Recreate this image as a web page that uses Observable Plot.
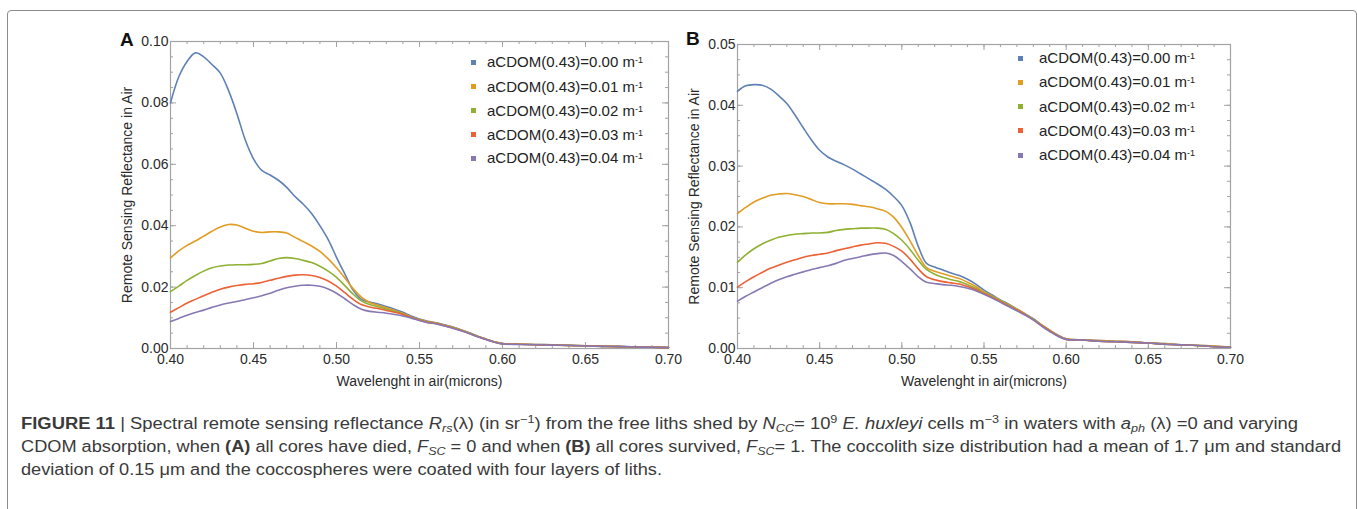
<!DOCTYPE html>
<html><head><meta charset="utf-8">
<script src="https://cdn.jsdelivr.net/npm/d3@7"></script>
<script src="https://cdn.jsdelivr.net/npm/@observablehq/plot@0.6"></script>
<style>
body{margin:0;background:#fff;}
#page{position:relative;width:1357px;height:509px;overflow:hidden;font-family:"Liberation Sans",Arial,sans-serif;color:#333;}
.border{position:absolute;left:7px;top:10px;width:1350px;height:540px;border:1.5px solid #8c8c8c;border-radius:4px;box-sizing:border-box;}
.plot{position:absolute;top:0;}
.letter{position:absolute;font-weight:bold;font-size:19px;color:#111;line-height:20px;}
.leg{position:absolute;font-size:15px;color:#222;line-height:18px;white-space:nowrap;}
.leg sup{font-size:9px;vertical-align:top;position:relative;top:-2px;}
.sq{position:absolute;width:5px;height:5px;}
.cap{position:absolute;left:21px;font-family:"Liberation Sans",Arial,sans-serif;font-size:16px;color:#3a3a3a;line-height:22px;}
.cap-line{display:inline-block;white-space:nowrap;transform-origin:0 50%;}
.cap sub{font-size:11px;vertical-align:baseline;position:relative;top:3px;}
.cap sup{font-size:11px;vertical-align:baseline;position:relative;top:-6px;}
</style></head>
<body><div id="page"><div class="border"></div></div>
<script>
// ---- data ----
const wavelengths = [0.400,0.405,0.410,0.415,0.420,0.425,0.430,0.435,0.440,0.445,0.450,0.455,0.460,0.465,0.470,0.475,0.480,0.485,0.490,0.495,0.500,0.505,0.510,0.515,0.520,0.525,0.530,0.535,0.540,0.545,0.550,0.555,0.560,0.565,0.570,0.575,0.580,0.585,0.590,0.595,0.600,0.610,0.620,0.630,0.640,0.650,0.660,0.670,0.680,0.690,0.700];
const seriesLabels = ["aCDOM(0.43)=0.00","aCDOM(0.43)=0.01","aCDOM(0.43)=0.02","aCDOM(0.43)=0.03","aCDOM(0.43)=0.04"];
const seriesColors = ["#5e81b5","#e19c24","#8fb032","#eb6235","#8778b3"];
const xTicks = [0.40,0.45,0.50,0.55,0.60,0.65,0.70];
const yTicksA = [0.00,0.02,0.04,0.06,0.08,0.10];
const yTicksB = [0.00,0.01,0.02,0.03,0.04,0.05];

// Panel A (F_SC = 0)
const a000 = [0.0800,0.0885,0.0935,0.0963,0.0950,0.0925,0.0897,0.0840,0.0765,0.0680,0.0618,0.0580,0.0565,0.0548,0.0525,0.0495,0.0470,0.0440,0.0400,0.0355,0.0297,0.0243,0.0190,0.0160,0.0151,0.0145,0.0137,0.0128,0.0118,0.0106,0.0096,0.0089,0.0084,0.0077,0.0070,0.0061,0.0051,0.0040,0.0031,0.0022,0.0016,0.0014,0.0013,0.0012,0.0011,0.0009,0.0008,0.0007,0.0005,0.0004,0.0003];
const a001 = [0.0295,0.0318,0.0336,0.0350,0.0366,0.0382,0.0396,0.0404,0.0402,0.0392,0.0382,0.0378,0.0380,0.0380,0.0376,0.0362,0.0348,0.0334,0.0316,0.0292,0.0263,0.0230,0.0195,0.0167,0.0150,0.0141,0.0133,0.0124,0.0114,0.0103,0.0094,0.0087,0.0083,0.0076,0.0069,0.0060,0.0050,0.0040,0.0030,0.0022,0.0016,0.0014,0.0013,0.0012,0.0010,0.0009,0.0008,0.0006,0.0005,0.0004,0.0003];
const a002 = [0.0185,0.0203,0.0222,0.0238,0.0252,0.0263,0.0269,0.0272,0.0273,0.0273,0.0274,0.0277,0.0285,0.0293,0.0296,0.0293,0.0287,0.0280,0.0268,0.0252,0.0232,0.0205,0.0177,0.0155,0.0143,0.0136,0.0129,0.0121,0.0112,0.0102,0.0093,0.0086,0.0082,0.0075,0.0068,0.0059,0.0050,0.0039,0.0030,0.0021,0.0015,0.0014,0.0012,0.0011,0.0010,0.0009,0.0007,0.0006,0.0005,0.0004,0.0003];
const a003 = [0.0118,0.0133,0.0148,0.0160,0.0172,0.0183,0.0193,0.0200,0.0205,0.0209,0.0211,0.0215,0.0222,0.0229,0.0235,0.0239,0.0240,0.0238,0.0231,0.0220,0.0203,0.0182,0.0160,0.0143,0.0135,0.0130,0.0124,0.0118,0.0111,0.0101,0.0092,0.0085,0.0081,0.0074,0.0067,0.0059,0.0049,0.0039,0.0030,0.0021,0.0015,0.0014,0.0012,0.0011,0.0010,0.0009,0.0007,0.0006,0.0005,0.0004,0.0003];
const a004 = [0.0088,0.0098,0.0108,0.0117,0.0125,0.0134,0.0142,0.0148,0.0153,0.0159,0.0165,0.0172,0.0180,0.0190,0.0198,0.0203,0.0206,0.0206,0.0203,0.0194,0.0180,0.0162,0.0143,0.0128,0.0121,0.0118,0.0115,0.0111,0.0106,0.0099,0.0091,0.0084,0.0080,0.0073,0.0066,0.0058,0.0049,0.0038,0.0029,0.0021,0.0015,0.0013,0.0012,0.0011,0.0010,0.0008,0.0007,0.0006,0.0005,0.0004,0.0003];

// Panel B (F_SC = 1)
const b000 = [0.0423,0.0432,0.0434,0.0433,0.0427,0.0416,0.0403,0.0384,0.0363,0.0343,0.0326,0.0315,0.0308,0.0302,0.0295,0.0287,0.0279,0.0271,0.0262,0.0250,0.0235,0.0207,0.0168,0.0140,0.0134,0.0129,0.0124,0.0120,0.0114,0.0106,0.0096,0.0088,0.0080,0.0073,0.0065,0.0057,0.0049,0.0039,0.0030,0.0022,0.0016,0.0014,0.0013,0.0012,0.0011,0.0009,0.0008,0.0006,0.0005,0.0004,0.0002];
const b001 = [0.0222,0.0232,0.0241,0.0247,0.0252,0.0254,0.0255,0.0253,0.0250,0.0245,0.0240,0.0238,0.0238,0.0238,0.0237,0.0235,0.0233,0.0230,0.0226,0.0216,0.0199,0.0177,0.0153,0.0133,0.0127,0.0123,0.0119,0.0115,0.0109,0.0102,0.0093,0.0086,0.0079,0.0072,0.0065,0.0057,0.0048,0.0039,0.0030,0.0021,0.0016,0.0014,0.0013,0.0012,0.0011,0.0009,0.0008,0.0006,0.0005,0.0004,0.0002];
const b002 = [0.0142,0.0154,0.0164,0.0172,0.0178,0.0183,0.0186,0.0188,0.0189,0.0190,0.0190,0.0191,0.0194,0.0196,0.0197,0.0198,0.0198,0.0198,0.0196,0.0189,0.0178,0.0163,0.0145,0.0130,0.0122,0.0117,0.0113,0.0110,0.0105,0.0099,0.0091,0.0085,0.0078,0.0071,0.0064,0.0056,0.0048,0.0038,0.0029,0.0021,0.0015,0.0014,0.0012,0.0011,0.0010,0.0009,0.0007,0.0006,0.0005,0.0003,0.0002];
const b003 = [0.0101,0.0110,0.0118,0.0125,0.0132,0.0137,0.0142,0.0146,0.0150,0.0153,0.0155,0.0157,0.0161,0.0164,0.0167,0.0170,0.0172,0.0174,0.0173,0.0168,0.0160,0.0147,0.0131,0.0118,0.0113,0.0110,0.0108,0.0106,0.0102,0.0097,0.0090,0.0084,0.0077,0.0070,0.0063,0.0056,0.0047,0.0038,0.0029,0.0021,0.0015,0.0014,0.0012,0.0011,0.0010,0.0009,0.0007,0.0006,0.0005,0.0003,0.0002];
const b004 = [0.0078,0.0086,0.0093,0.0100,0.0107,0.0113,0.0118,0.0122,0.0126,0.0130,0.0133,0.0136,0.0140,0.0145,0.0148,0.0151,0.0154,0.0156,0.0157,0.0153,0.0143,0.0131,0.0118,0.0109,0.0107,0.0105,0.0104,0.0102,0.0099,0.0095,0.0089,0.0083,0.0076,0.0069,0.0062,0.0055,0.0047,0.0037,0.0028,0.0020,0.0015,0.0014,0.0012,0.0011,0.0010,0.0009,0.0007,0.0006,0.0005,0.0003,0.0002];

const yLabel = "Remote Sensing Reflectance in Air";
const xLabel = "Wavelenght in air(microns)";

// ---- drawing ----
const page = document.getElementById("page");
const gray = "#a3a3a3";

function panel(series, yTicks, minorDiv, opts) {
  const {left, width, ml, mr, mt} = opts;
  const height = 400, mb = 52;
  const pw = width - ml - mr, ph = height - mt - mb;
  const rows = [];
  series.forEach((vals, i) => vals.forEach((v, j) => rows.push({wl: wavelengths[j], r: v, s: seriesLabels[i]})));
  const yMax = yTicks[yTicks.length - 1];
  const yStep = yTicks[1] - yTicks[0];
  const xMinor = d3.range(0, 31).map(i => +(0.40 + i * 0.01).toFixed(3));
  const yMinor = d3.range(0, (yTicks.length - 1) * minorDiv + 1).map(i => i * yStep / minorDiv);
  const svg = Plot.plot({
    width, height, marginLeft: ml, marginRight: mr, marginTop: mt, marginBottom: mb,
    style: {fontFamily: '"Liberation Sans", Arial, sans-serif', fontSize: "14px", color: "#2a2a2a", background: "transparent", overflow: "visible"},
    x: {domain: [0.40, 0.70], axis: null},
    y: {domain: [0, yMax], axis: null},
    color: {domain: seriesLabels, range: seriesColors},
    marks: [
      Plot.tickX(xMinor, {x: d => d, insetTop: ph - 3, stroke: gray}),
      Plot.tickX(xMinor, {x: d => d, insetBottom: ph - 3, stroke: gray}),
      Plot.tickX(xTicks, {x: d => d, insetTop: ph - 6, stroke: gray}),
      Plot.tickX(xTicks, {x: d => d, insetBottom: ph - 6, stroke: gray}),
      Plot.tickY(yMinor, {y: d => d, insetRight: pw - 3, stroke: gray}),
      Plot.tickY(yMinor, {y: d => d, insetLeft: pw - 3, stroke: gray}),
      Plot.tickY(yTicks, {y: d => d, insetRight: pw - 6, stroke: gray}),
      Plot.tickY(yTicks, {y: d => d, insetLeft: pw - 6, stroke: gray}),
      Plot.frame({stroke: gray, strokeWidth: 1.2}),
      Plot.line(rows, {x: "wl", y: "r", z: "s", stroke: "s", strokeWidth: 1.6, curve: "catmull-rom"}),
      Plot.axisX(xTicks, {tickSize: 0, tickPadding: 6, tickFormat: d3.format(".2f"), label: null, fontSize: 14}),
      Plot.axisY(yTicks, {tickSize: 0, tickPadding: 2, tickFormat: d3.format(".2f"), label: null, fontSize: 14}),
      Plot.text([yLabel], {text: d => d, frameAnchor: "left", textAnchor: "middle", lineAnchor: "middle", rotate: -90, dx: -43, fontSize: 14}),
      Plot.text([xLabel], {text: d => d, frameAnchor: "bottom", textAnchor: "middle", lineAnchor: "middle", dy: 33, fontSize: 14})
    ]
  });
  const wrap = document.createElement("div");
  wrap.className = "plot";
  wrap.style.left = left + "px";
  wrap.appendChild(svg);
  page.appendChild(wrap);
}

panel([a000, a001, a002, a003, a004], yTicksA, 4, {left: 0, width: 700, ml: 170, mr: 32, mt: 41});
panel([b000, b001, b002, b003, b004], yTicksB, 4, {left: 680, width: 580, ml: 57, mr: 30, mt: 44});

function addEl(html, cls, style) {
  const d = document.createElement("div");
  d.className = cls; d.innerHTML = html; Object.assign(d.style, style);
  page.appendChild(d); return d;
}
addEl("A", "letter", {left: "120px", top: "30px"});
addEl("B", "letter", {left: "686px", top: "29px"});

function legend(sqX, textX, yCenters) {
  seriesLabels.forEach((lab, i) => {
    addEl("", "sq", {left: (sqX - 2.5) + "px", top: (yCenters[i] - 2.5) + "px", background: seriesColors[i]});
    addEl(lab + " m<sup>-1</sup>", "leg", {left: textX + "px", top: (yCenters[i] - 9) + "px"});
  });
}
legend(473.5, 487, [62, 86.5, 110.5, 134.5, 158]);
legend(1020.5, 1039, [58, 82, 106.5, 130.5, 155]);

// ---- caption ----
const cap = addEl(
  '<div><span class="cap-line" data-w="1277"><b>FIGURE 11</b> | Spectral remote sensing reflectance <i>R<sub>rs</sub></i>(λ) (in sr<sup>−1</sup>) from the free liths shed by <i>N<sub>CC</sub></i>= 10<sup>9</sup> <i>E. huxleyi</i> cells m<sup>−3</sup> in waters with <i>a<sub>ph</sub></i> (λ) =0 and varying</span></div>' +
  '<div><span class="cap-line" data-w="1320">CDOM absorption, when <b>(A)</b> all cores have died, <i>F<sub>SC</sub></i> = 0 and when <b>(B)</b> all cores survived, <i>F<sub>SC</sub></i>= 1. The coccolith size distribution had a mean of 1.7 μm and standard</span></div>' +
  '<div><span class="cap-line">deviation of 0.15 μm and the coccospheres were coated with four layers of liths.</span></div>',
  "cap", {top: "413px"});
let lastK = 1;
cap.querySelectorAll(".cap-line").forEach(el => {
  const w = el.getBoundingClientRect().width;
  const t = +el.dataset.w;
  const k = t ? t / w : lastK;
  lastK = k;
  el.style.transform = `scaleX(${k})`;
});
</script>
</body></html>
